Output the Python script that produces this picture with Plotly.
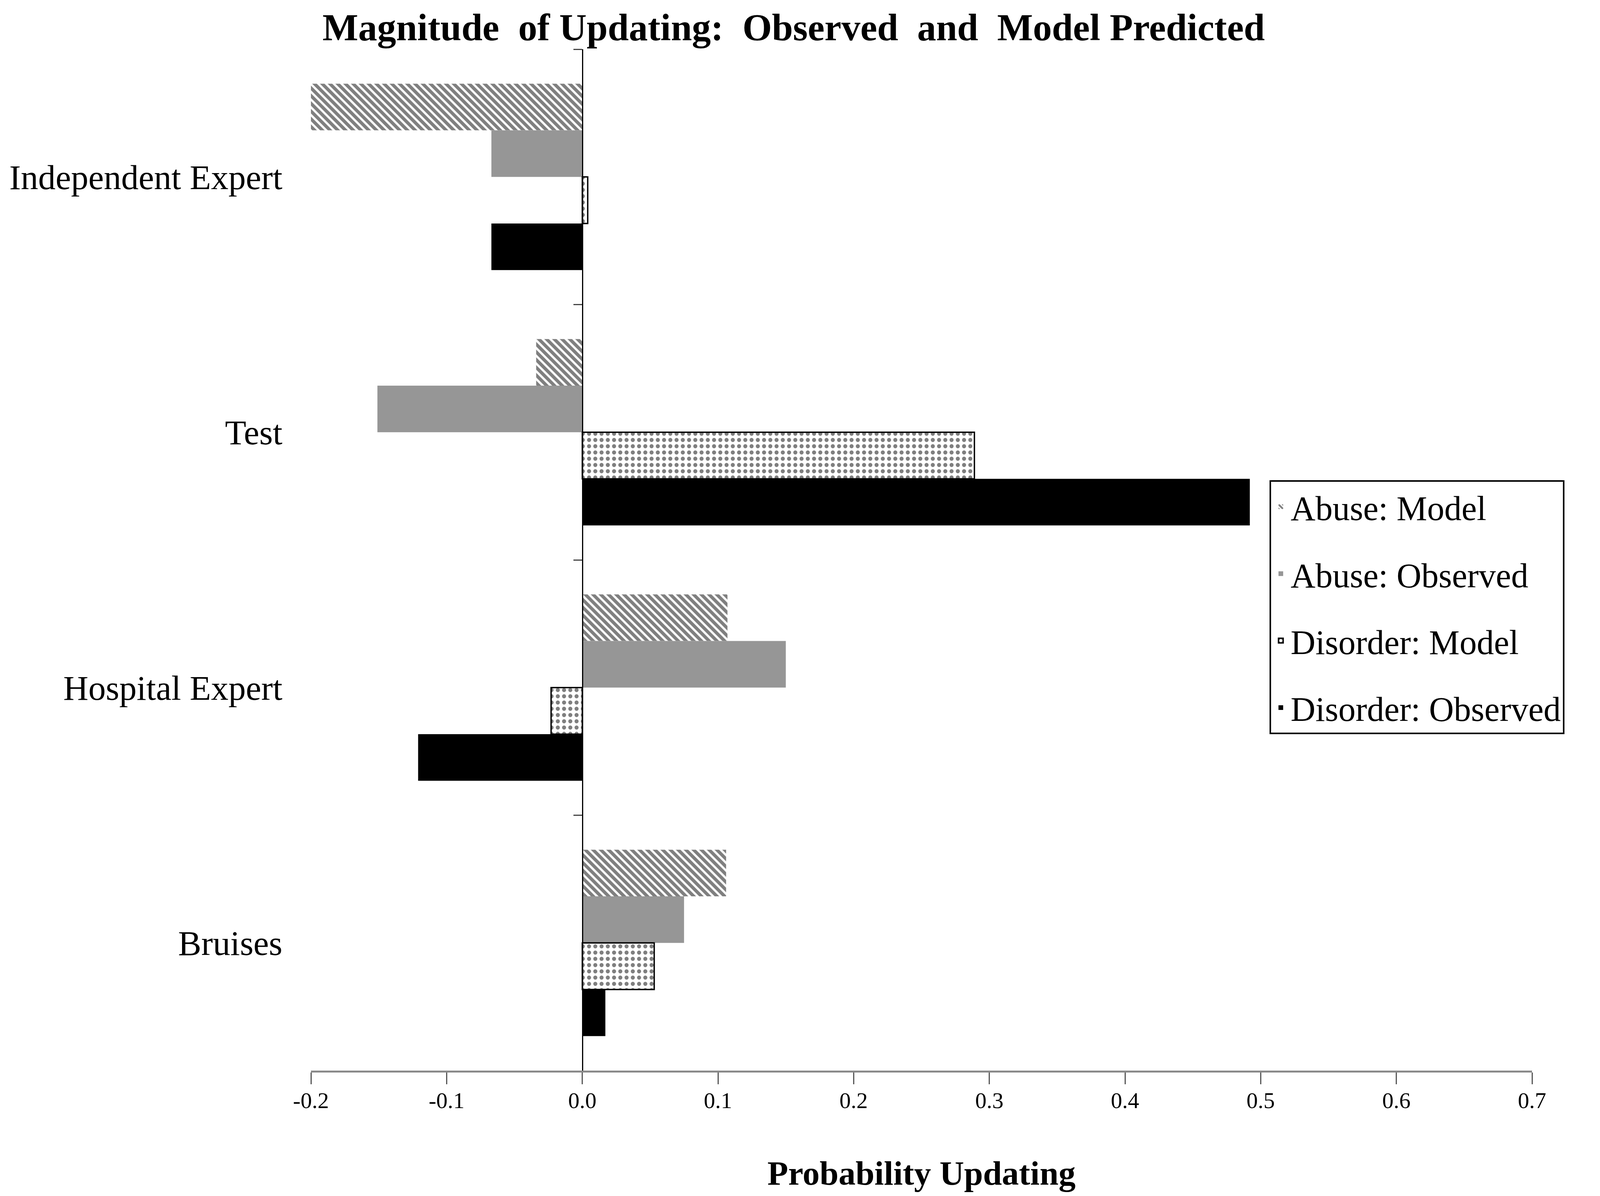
import plotly.graph_objects as go

# values
categories = ["Independent Expert", "Test", "Hospital Expert", "Bruises"]
abuse_model = [-0.201, -0.034, 0.107, 0.106]
abuse_observed = [-0.067, -0.151, 0.150, 0.075]
disorder_model = [0.004, 0.289, -0.023, 0.053]
disorder_observed = [-0.067, 0.492, -0.121, 0.017]
x_ticks = [-0.2, -0.1, 0.0, 0.1, 0.2, 0.3, 0.4, 0.5, 0.6, 0.7]
x_ticklabels = ["-0.2", "-0.1", "0.0", "0.1", "0.2", "0.3", "0.4", "0.5", "0.6", "0.7"]

serif = "Liberation Serif, Times New Roman, serif"

fig = go.Figure()

fig.add_trace(go.Bar(
    y=categories, x=abuse_model, orientation="h", name="Abuse: Model",
    legendgroup="a",
    marker=dict(color="white", line=dict(width=0),
                pattern=dict(shape="\\", fgcolor="black", bgcolor="white", size=14, solidity=0.6)),
))
fig.add_trace(go.Bar(
    y=categories, x=abuse_observed, orientation="h", name="Abuse: Observed",
    legendgroup="b",
    marker=dict(color="#969696", line=dict(width=0)),
))
fig.add_trace(go.Bar(
    y=categories, x=disorder_model, orientation="h", name="Disorder: Model",
    legendgroup="c",
    marker=dict(color="white", line=dict(width=3.5, color="black"),
                pattern=dict(shape=".", fgcolor="black", bgcolor="white", size=16, solidity=0.33)),
))
fig.add_trace(go.Bar(
    y=categories, x=disorder_observed, orientation="h", name="Disorder: Observed",
    legendgroup="d",
    marker=dict(color="black", line=dict(width=0)),
))

# hidden helper so the category axis drawn at x = 0 gets rendered
fig.add_trace(go.Scatter(
    y=categories, x=abuse_observed, yaxis="y2", mode="markers",
    marker=dict(opacity=0), showlegend=False, hoverinfo="skip",
))

x_min, x_max = -0.2, 0.7
zero_pos = (0 - x_min) / (x_max - x_min)

fig.update_layout(
    width=4080, height=3045,
    paper_bgcolor="white", plot_bgcolor="white",
    margin=dict(l=788, r=166, t=118, b=313),
    barmode="group", bargap=0.27, bargroupgap=0,
    font=dict(family=serif, color="black"),
    title=dict(text="<b>Magnitude  of Updating:  Observed  and  Model Predicted</b>",
               x=0.496, xanchor="center", xref="container",
               y=0.98, yanchor="middle", yref="container",
               font=dict(family=serif, size=97, color="black")),
    xaxis=dict(range=[x_min, x_max], tickvals=x_ticks, ticktext=x_ticklabels,
               showgrid=False, zeroline=False,
               showline=True, linecolor="#8a8a8a", linewidth=5,
               ticks="outside", ticklen=30, tickwidth=3, tickcolor="#555555",
               ticklabelstandoff=-9,
               tickfont=dict(family=serif, size=58, color="black"),
               title=dict(text="<b>Probability Updating</b>", standoff=125,
                          font=dict(family=serif, size=87, color="black"))),
    yaxis=dict(type="category", categoryarray=categories, categoryorder="array",
               range=[3.5, -0.5], showgrid=False, zeroline=False, showline=False,
               ticks="", ticklabelstandoff=72,
               tickfont=dict(family=serif, size=89, color="black")),
    yaxis2=dict(type="category", categoryarray=categories, categoryorder="array",
                range=[3.5, -0.5], overlaying="y", anchor="free", position=zero_pos,
                side="left", showgrid=False, zeroline=False,
                showline=True, linecolor="black", linewidth=3,
                ticks="outside", tickson="boundaries", ticklen=22, tickwidth=3,
                tickcolor="#444444", showticklabels=False),
    legend=dict(x=0.785, y=0.578, xanchor="left", yanchor="top",
                bgcolor="white", bordercolor="black", borderwidth=4,
                font=dict(family=serif, size=88, color="black"),
                tracegroupgap=54, itemwidth=40, traceorder="grouped"),
    showlegend=True,
)

fig.write_html("out.html")
